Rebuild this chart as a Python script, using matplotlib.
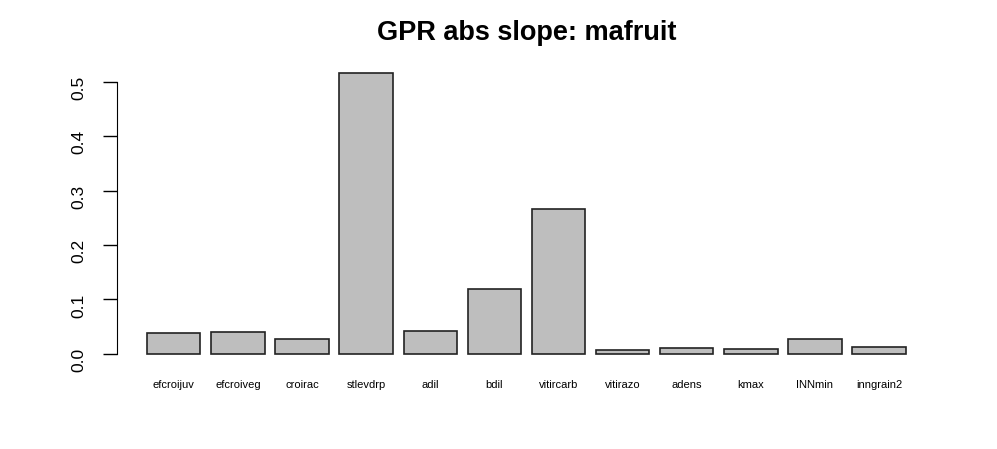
import matplotlib.pyplot as plt

# valeurs
params = ['efcroijuv', 'efcroiveg', 'croirac', 'stlevdrp', 'adil', 'bdil',
          'vitircarb', 'vitirazo', 'adens', 'kmax', 'INNmin', 'inngrain2']
slopes = [0.038, 0.041, 0.028, 0.517, 0.042, 0.120,
          0.267, 0.0075, 0.0115, 0.0085, 0.027, 0.0125]
yticks = [0.0, 0.1, 0.2, 0.3, 0.4, 0.5]

plt.rcParams['font.family'] = ['Liberation Sans', 'DejaVu Sans']

fig = plt.figure(figsize=(9.97, 4.49), dpi=100)
ax = fig.add_axes([0.117, 0.187, 0.822, 0.676])

# positions façon barplot() de R : largeur 1, espace 0.2
x = [0.2 + 1.2 * i + 0.5 for i in range(len(params))]
ax.bar(x, slopes, width=1.0, color='#bebebe', edgecolor='#222222', linewidth=1.2)

xmin, xmax = 0.2, 0.2 + 1.2 * len(params) - 0.2
dx = 0.04 * (xmax - xmin)
ax.set_xlim(xmin - dx, xmax + dx)
ymax = max(slopes)
ax.set_ylim(-0.04 * ymax, ymax * 1.04)

ax.set_xticks(x)
ax.set_xticklabels(params, fontsize=8)
ax.tick_params(axis='x', length=0, pad=11)

ax.set_yticks(yticks)
ax.set_yticklabels([f'{v:.1f}' for v in yticks])
ax.tick_params(axis='y', length=10, width=1, pad=12, labelrotation=90, labelsize=12.5)
for lab in ax.get_yticklabels():
    lab.set_va('center')
    lab.set_fontsize(12.5)

for s in ['top', 'right', 'bottom']:
    ax.spines[s].set_visible(False)
ax.spines['left'].set_bounds(0, 0.5)
ax.spines['left'].set_position(('data', xmin - dx))

fig.suptitle('GPR abs slope: mafruit', fontsize=19.5, fontweight='bold', x=0.528, y=0.955)

fig.savefig('out.png', dpi=100)
